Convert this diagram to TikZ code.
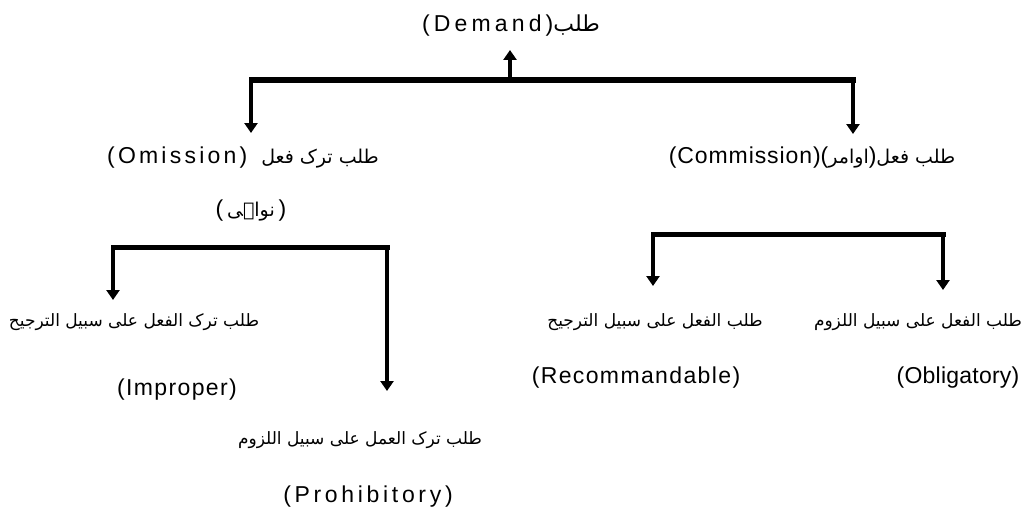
\documentclass[tikz,border=0pt]{standalone}
\usepackage{fontspec}
\setmainfont{Liberation Sans}
\newfontfamily\urdufont[Script=Arabic]{DejaVu Sans}
\TeXXeTstate=1
\usetikzlibrary{arrows.meta}
\newcommand{\urtxt}[1]{{\fontsize{17}{22}\urdufont\beginR #1\endR}}
\newcommand{\urbig}[1]{{\fontsize{22}{26}\urdufont\beginR #1\endR}}
\newcommand{\entxt}[2]{{\addfontfeature{LetterSpace=#1}#2}}
\tikzset{
  lbl/.style={inner sep=0pt, font=\fontsize{23}{27}\selectfont},
  bar/.style={line width=5pt, line cap=rect},
  arr/.style={line width=4.5pt, -{Triangle[width=13pt,length=10pt]}},
}
\begin{document}
\begin{tikzpicture}[x=1pt,y=-1pt]
\useasboundingbox (0,0) rectangle (1028,519);
% nodes
\node[lbl] (demand) at (511,26) {\entxt{18}{(Demand)}\urbig{طلب}};
\node[lbl] (omis) at (243,158) {\entxt{14}{(Omission)}\hspace{14pt}{\fontsize{19}{24}\urdufont\beginR طلب ترک فعل\endR}};
\node[lbl] (nawahi) at (251,211) {(\,{\fontsize{19}{24}\urdufont\beginR نواہی\endR}\,)};
\node[lbl] (commis) at (812,158) {\entxt{4}{(Commission)}({\fontsize{19}{24}\urdufont\beginR اوامر\endR}){\fontsize{19}{24}\urdufont\beginR طلب فعل\endR}};
\node[lbl] (impU) at (134,322) {\urtxt{طلب ترک الفعل علی سبیل الترجیح}};
\node[lbl] (impE) at (177,390) {\entxt{6}{(Improper)}};
\node[lbl] (proU) at (360,440) {\urtxt{طلب ترک العمل علی سبیل اللزوم}};
\node[lbl] (proE) at (368,497) {\entxt{16}{(Prohibitory)}};
\node[lbl] (recU) at (655,322) {\urtxt{طلب الفعل علی سبیل الترجیح}};
\node[lbl] (recE) at (636,378) {\entxt{6}{(Recommandable)}};
\node[lbl] (oblU) at (918,322) {\urtxt{طلب الفعل علی سبیل اللزوم}};
\node[lbl] (oblE) at (958,378) {\entxt{1}{(Obligatory)}};
% junction coordinates
\coordinate (bL) at (251,80);
\coordinate (bR) at (853,80);
\coordinate (bM) at (510,78);
\coordinate (tD) at (510,50);
\coordinate (tO) at (251,133);
\coordinate (tC) at (853,134);
\coordinate (sL) at (113,247);
\coordinate (sR) at (387,247);
\coordinate (tI) at (113,300);
\coordinate (tP) at (387,391);
\coordinate (rL) at (653,234);
\coordinate (rR) at (943,234);
\coordinate (tR) at (653,286);
\coordinate (tB) at (943,290);
% connectors
\draw[bar] (bL) -- (bR);
\draw[arr] (bM) -- (tD);
\draw[arr] (bL) -- (tO);
\draw[arr] (bR) -- (tC);
\draw[bar] (sL) -- (sR);
\draw[arr] (sL) -- (tI);
\draw[arr] (sR) -- (tP);
\draw[bar] (rL) -- (rR);
\draw[arr] (rL) -- (tR);
\draw[arr] (rR) -- (tB);
\end{tikzpicture}
\end{document}
